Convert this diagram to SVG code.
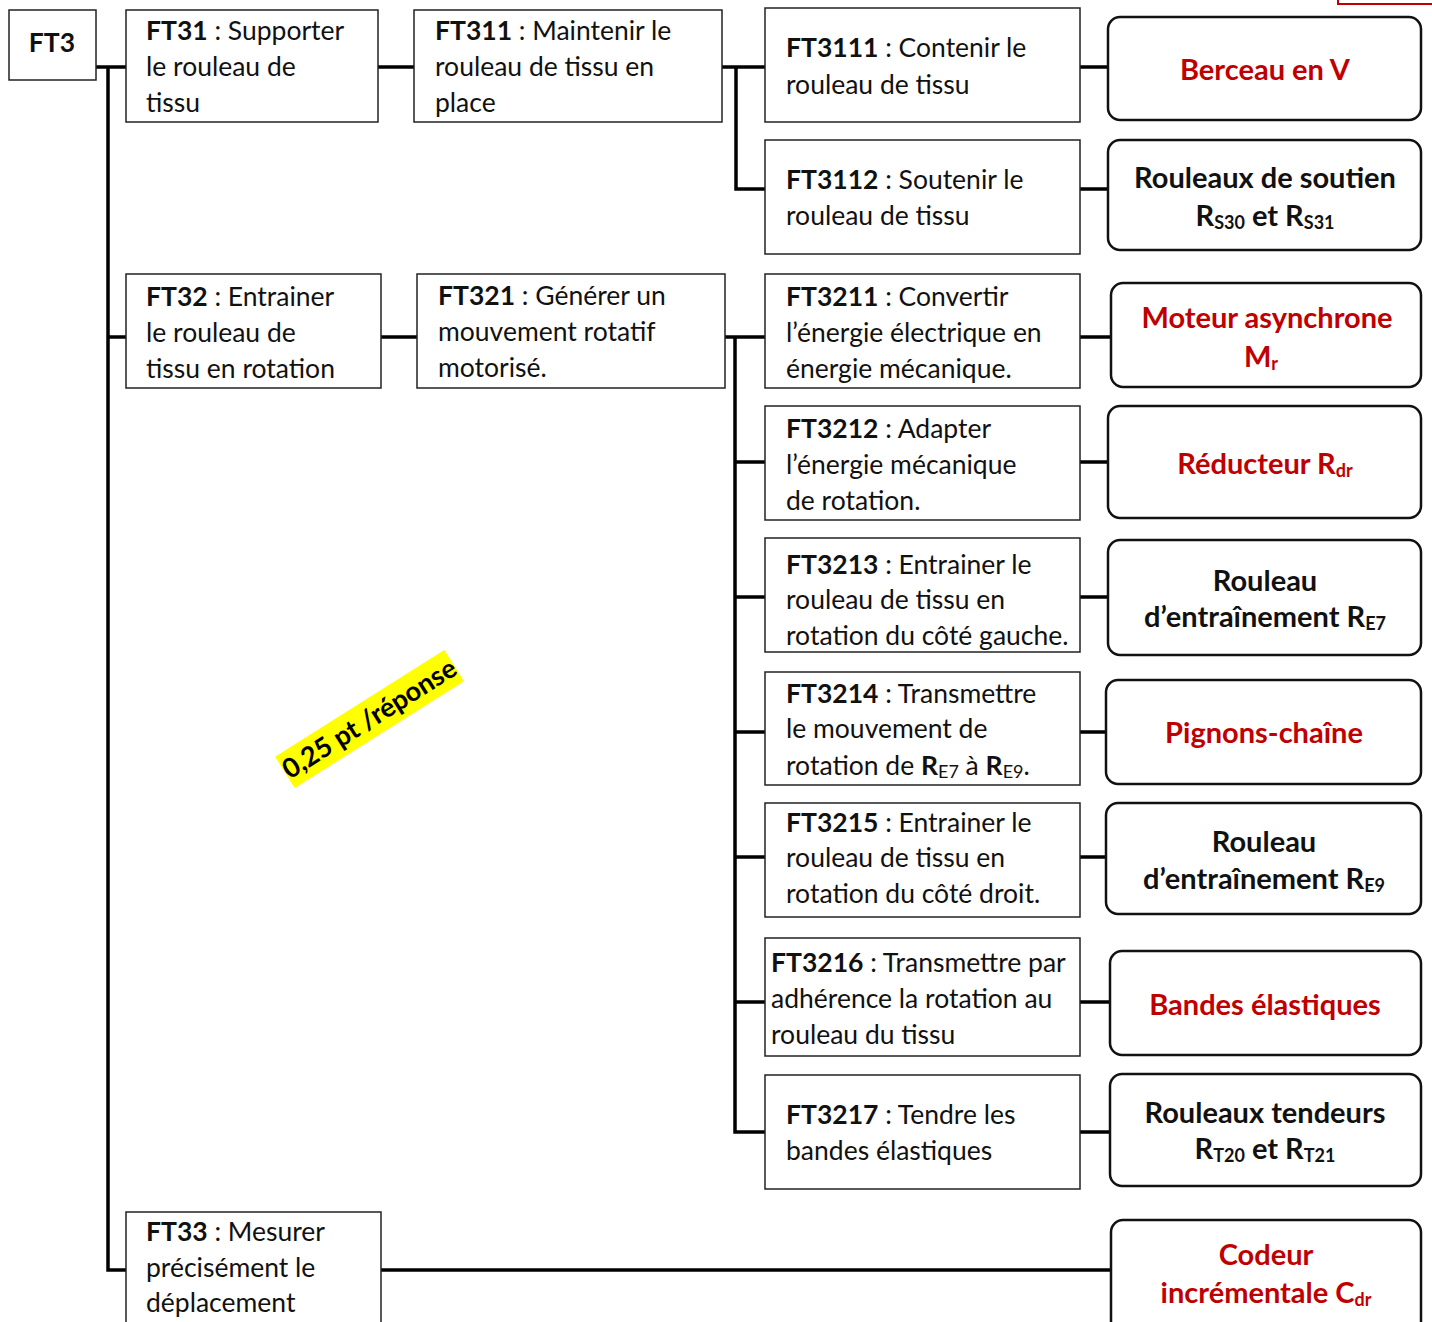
<svg xmlns="http://www.w3.org/2000/svg" width="1432" height="1322" viewBox="0 0 1432 1322">
<style>
  .box{fill:#fff;stroke:#222;stroke-width:1.5}
  .rbox{fill:#fff;stroke:#111;stroke-width:2.5}
  .t{font-family:Lato,"Liberation Sans",sans-serif;font-size:26.5px;fill:#111}
  .b{font-weight:bold}
  .rt{font-family:Lato,"Liberation Sans",sans-serif;font-size:29px;font-weight:bold;text-anchor:middle;fill:#111}
  .red{fill:#c00000}
  .sub{font-size:18px}
  .conn{fill:none;stroke:#000;stroke-width:3.5}
</style>
<rect width="1432" height="1322" fill="#fff"/>
<rect x="1338" y="-20" width="110" height="24" fill="#fff" stroke="#c00000" stroke-width="2"/>

<g id="connectors">
  <path class="conn" d="M96,67 H126 M108,67 V1270 H126 M108,337 H126"/>
  <path class="conn" d="M378,67 H414"/>
  <path class="conn" d="M722,67 H765 M736,67 V189 H765"/>
  <path class="conn" d="M1080,67 H1108 M1080,189 H1108"/>
  <path class="conn" d="M381,337 H417"/>
  <path class="conn" d="M725,337 H765 M735,337 V1132 H765 M735,462 H765 M735,597 H765 M735,732 H765 M735,857 H765 M735,1002 H765"/>
  <path class="conn" d="M1080,337 H1111 M1080,462 H1108 M1080,597 H1108 M1080,732 H1106 M1080,857 H1106 M1080,1002 H1110 M1080,1132 H1110"/>
  <path class="conn" d="M381,1270 H1111"/>
</g>

<g id="FT3"><rect class="box" x="9" y="10" width="87" height="70"/><text class="t b" x="52" y="52" text-anchor="middle">FT3</text></g>

<g id="FT31"><rect class="box" x="126" y="10" width="252" height="112"/>
<text class="t"><tspan x="146" y="40"><tspan class="b">FT31</tspan> : Supporter</tspan><tspan x="146" y="76">le rouleau de</tspan><tspan x="146" y="112">tissu</tspan></text></g>

<g id="FT311"><rect class="box" x="414" y="10" width="308" height="112"/>
<text class="t"><tspan x="435" y="40"><tspan class="b">FT311</tspan> : Maintenir le</tspan><tspan x="435" y="76">rouleau de tissu en</tspan><tspan x="435" y="112">place</tspan></text></g>

<g id="FT3111"><rect class="box" x="765" y="8" width="315" height="114"/>
<text class="t"><tspan x="786" y="57"><tspan class="b">FT3111</tspan> : Contenir le</tspan><tspan x="786" y="94">rouleau de tissu</tspan></text></g>

<g id="FT3112"><rect class="box" x="765" y="140" width="315" height="114"/>
<text class="t"><tspan x="786" y="189"><tspan class="b">FT3112</tspan> : Soutenir le</tspan><tspan x="786" y="225">rouleau de tissu</tspan></text></g>

<g id="berceau"><rect class="rbox" x="1108" y="17" width="313" height="103" rx="12"/>
<text class="rt red" x="1265" y="80">Berceau en V</text></g>

<g id="soutien"><rect class="rbox" x="1108" y="140" width="313" height="110" rx="12"/>
<text class="rt"><tspan x="1265" y="188">Rouleaux de soutien</tspan><tspan x="1265" y="226">R<tspan class="sub" dy="3">S30</tspan><tspan dy="-3"> et R</tspan><tspan class="sub" dy="3">S31</tspan></tspan></text></g>

<g id="FT32"><rect class="box" x="126" y="274" width="255" height="114"/>
<text class="t"><tspan x="146" y="306"><tspan class="b">FT32</tspan> : Entrainer</tspan><tspan x="146" y="342">le rouleau de</tspan><tspan x="146" y="378">tissu en rotation</tspan></text></g>

<g id="FT321"><rect class="box" x="417" y="274" width="308" height="114"/>
<text class="t"><tspan x="438" y="305"><tspan class="b">FT321</tspan> : Générer un</tspan><tspan x="438" y="341">mouvement rotatif</tspan><tspan x="438" y="377">motorisé.</tspan></text></g>

<g id="FT3211"><rect class="box" x="765" y="274" width="315" height="114"/>
<text class="t"><tspan x="786" y="306"><tspan class="b">FT3211</tspan> : Convertir</tspan><tspan x="786" y="342">l’énergie électrique en</tspan><tspan x="786" y="378">énergie mécanique.</tspan></text></g>

<g id="FT3212"><rect class="box" x="765" y="406" width="315" height="114"/>
<text class="t"><tspan x="786" y="438"><tspan class="b">FT3212</tspan> : Adapter</tspan><tspan x="786" y="474">l’énergie mécanique</tspan><tspan x="786" y="510">de rotation.</tspan></text></g>

<g id="FT3213"><rect class="box" x="765" y="538" width="315" height="114"/>
<text class="t"><tspan x="786" y="574"><tspan class="b">FT3213</tspan> : Entrainer le</tspan><tspan x="786" y="609">rouleau de tissu en</tspan><tspan x="786" y="645">rotation du côté gauche.</tspan></text></g>

<g id="FT3214"><rect class="box" x="765" y="672" width="315" height="113"/>
<text class="t"><tspan x="786" y="703"><tspan class="b">FT3214</tspan> : Transmettre</tspan><tspan x="786" y="738">le mouvement de</tspan><tspan x="786" y="775">rotation de <tspan class="b">R</tspan><tspan class="sub" dy="3">E7</tspan><tspan dy="-3"> à </tspan><tspan class="b">R</tspan><tspan class="sub" dy="3">E9</tspan><tspan dy="-3">.</tspan></tspan></text></g>

<g id="FT3215"><rect class="box" x="765" y="803" width="315" height="114"/>
<text class="t"><tspan x="786" y="832"><tspan class="b">FT3215</tspan> : Entrainer le</tspan><tspan x="786" y="867">rouleau de tissu en</tspan><tspan x="786" y="903">rotation du côté droit.</tspan></text></g>

<g id="FT3216"><rect class="box" x="765" y="938" width="315" height="118"/>
<text class="t"><tspan x="771" y="972"><tspan class="b">FT3216</tspan> : Transmettre par</tspan><tspan x="771" y="1008">adhérence la rotation au</tspan><tspan x="771" y="1044">rouleau du tissu</tspan></text></g>

<g id="FT3217"><rect class="box" x="765" y="1075" width="315" height="114"/>
<text class="t"><tspan x="786" y="1124"><tspan class="b">FT3217</tspan> : Tendre les</tspan><tspan x="786" y="1160">bandes élastiques</tspan></text></g>

<g id="moteur"><rect class="rbox" x="1111" y="283" width="310" height="104" rx="12"/>
<text class="rt red"><tspan x="1267" y="328">Moteur asynchrone</tspan><tspan x="1261" y="367">M</tspan><tspan class="sub" dy="3">r</tspan></text></g>

<g id="reducteur"><rect class="rbox" x="1108" y="406" width="313" height="112" rx="12"/>
<text class="rt red" x="1265" y="474">Réducteur R<tspan class="sub" dy="3">dr</tspan></text></g>

<g id="RE7"><rect class="rbox" x="1108" y="540" width="313" height="115" rx="12"/>
<text class="rt"><tspan x="1265" y="591">Rouleau</tspan><tspan x="1265" y="627">d’entraînement R<tspan class="sub" dy="3">E7</tspan></tspan></text></g>

<g id="pignons"><rect class="rbox" x="1106" y="680" width="315" height="104" rx="12"/>
<text class="rt red" x="1264" y="743">Pignons-chaîne</text></g>

<g id="RE9"><rect class="rbox" x="1106" y="803" width="315" height="111" rx="12"/>
<text class="rt"><tspan x="1264" y="852">Rouleau</tspan><tspan x="1264" y="889">d’entraînement R<tspan class="sub" dy="3">E9</tspan></tspan></text></g>

<g id="bandes"><rect class="rbox" x="1110" y="951" width="311" height="104" rx="12"/>
<text class="rt red" x="1265" y="1015">Bandes élastiques</text></g>

<g id="tendeurs"><rect class="rbox" x="1110" y="1074" width="311" height="112" rx="12"/>
<text class="rt"><tspan x="1265" y="1123">Rouleaux tendeurs</tspan><tspan x="1265" y="1159">R<tspan class="sub" dy="3">T20</tspan><tspan dy="-3"> et R</tspan><tspan class="sub" dy="3">T21</tspan></tspan></text></g>

<g id="FT33"><rect class="box" x="126" y="1212" width="255" height="130"/>
<text class="t"><tspan x="146" y="1241"><tspan class="b">FT33</tspan> : Mesurer</tspan><tspan x="146" y="1277">précisément le</tspan><tspan x="146" y="1312">déplacement</tspan></text></g>

<g id="codeur"><rect class="rbox" x="1111" y="1220" width="310" height="120" rx="12"/>
<text class="rt red"><tspan x="1266" y="1265">Codeur</tspan><tspan x="1266" y="1303">incrémentale C<tspan class="sub" dy="3">dr</tspan></tspan></text></g>

<g id="bareme" transform="translate(369.5,719) rotate(-32.2)">
<rect x="-100" y="-18.5" width="200" height="37" fill="#ffff00"/>
<text x="0" y="9" text-anchor="middle" style="font-family:Lato,'Liberation Sans',sans-serif;font-size:27px;font-weight:bold;fill:#000">0,25 pt /réponse</text>
</g>
</svg>
